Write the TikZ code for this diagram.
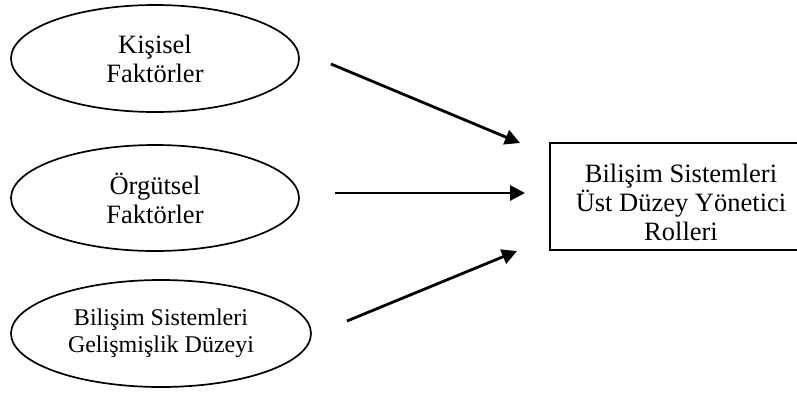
\documentclass[tikz,border=0pt]{standalone}
\usepackage{fontspec}
\setmainfont{Liberation Serif}
\usetikzlibrary{shapes.geometric,arrows.meta}
\begin{document}
\begin{tikzpicture}[x=1pt,y=-1pt,
  oval/.style={ellipse,draw,line width=1.7pt,inner sep=0pt,align=center},
  bigtext/.style={font=\fontsize{26.5}{29}\selectfont},
  smalltext/.style={font=\fontsize{24}{27}\selectfont},
  outcome/.style={rectangle,draw,line width=1.7pt,inner sep=0pt},
  link/.style={line width=2.8pt,-{Triangle[length=15pt,width=15pt]}}]
\useasboundingbox (0,0) rectangle (797,392);
\node[oval,bigtext,minimum width=288pt,minimum height=107pt] (kisisel) at (155,58.5) {Kişisel\\Faktörler};
\node[oval,bigtext,minimum width=288pt,minimum height=106pt] (orgutsel) at (155,198) {Örgütsel\\Faktörler};
\node[oval,smalltext,minimum width=300pt,minimum height=107pt] (bilisim) at (161,333.5) {Bilişim Sistemleri\\Gelişmişlik Düzeyi};
\node[outcome,minimum width=262pt,minimum height=107pt] (box) at (681,196.5) {};
\node[bigtext,align=center,anchor=base,inner sep=0pt] (roles) at (681,240) {Bilişim Sistemleri\\Üst Düzey Yönetici\\Rolleri};
\coordinate (s1) at (331,64);
\coordinate (e1) at (520,143);
\coordinate (s2) at (335,193);
\coordinate (e2) at (525,193);
\coordinate (s3) at (347,321);
\coordinate (e3) at (517,251);
\draw[link] (s1) -- (e1);
\draw[link] (s2) -- (e2);
\draw[link] (s3) -- (e3);
\end{tikzpicture}
\end{document}
